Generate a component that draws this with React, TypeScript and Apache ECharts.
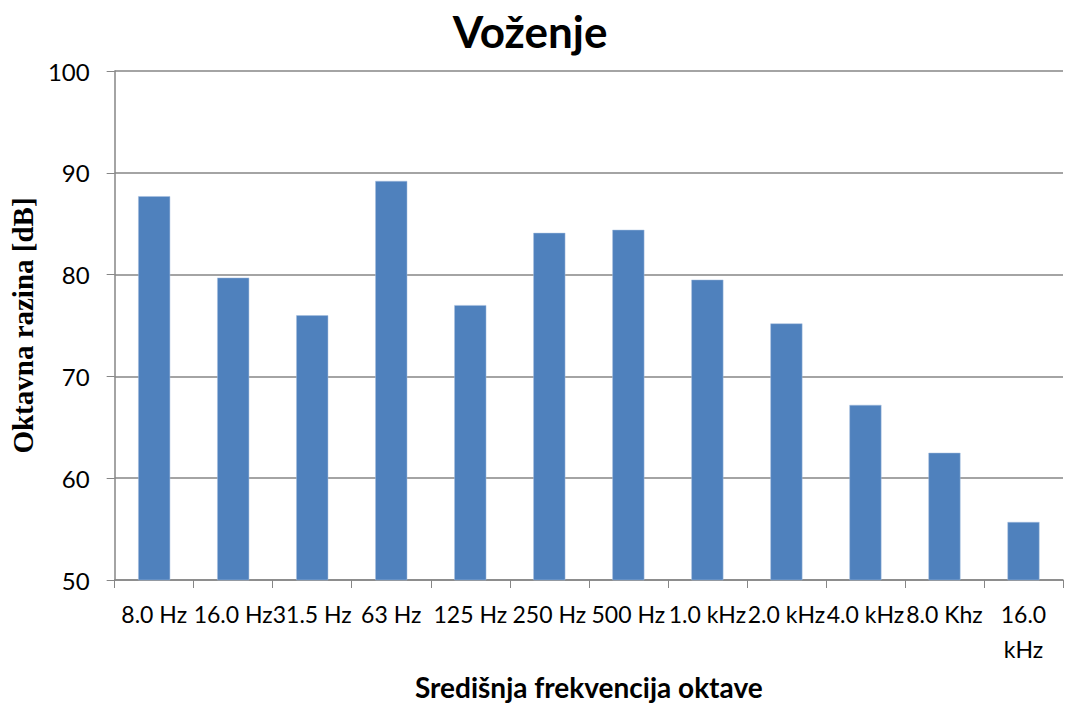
import React, { useEffect, useRef } from "react";
import * as echarts from "echarts";

const categories = [
  "8.0 Hz", "16.0 Hz", "31.5 Hz", "63 Hz", "125 Hz", "250 Hz",
  "500 Hz", "1.0 kHz", "2.0 kHz", "4.0 kHz", "8.0 Khz", "16.0 kHz",
];
const levels = [87.7, 79.7, 76.0, 89.2, 77.0, 84.1, 84.4, 79.5, 75.2, 67.2, 62.5, 55.7];
const yTicks = [50, 60, 70, 80, 90, 100];

const title = "Voženje";
const yName = "Oktavna razina [dB]";
const xName = "Središnja frekvencija oktave";

export default function App() {
  const ref = useRef<HTMLDivElement>(null);
  useEffect(() => {
    if (!ref.current) return;
    const chart = echarts.init(ref.current, undefined, { renderer: "svg" });
    chart.setOption({
      animation: false,
      backgroundColor: "#ffffff",
      title: {
        text: title,
        left: 525,
        textAlign: "center",
        top: 4,
        textStyle: { fontFamily: "Lato", fontWeight: "bold", fontSize: 44, color: "#000" },
      },
      grid: { left: 112, right: 18, top: 71, bottom: 114, containLabel: false },
      xAxis: {
        type: "category",
        data: categories,
        name: xName,
        nameLocation: "middle",
        nameGap: 93,
        nameTextStyle: { fontFamily: "Lato", fontWeight: "bold", fontSize: 28, color: "#000" },
        axisLine: { lineStyle: { color: "#868686", width: 1.5 } },
        axisTick: { show: true, length: 8, lineStyle: { color: "#868686" } },
        axisLabel: {
          interval: 0,
          fontFamily: "Lato",
          fontSize: 23,
          color: "#000",
          margin: 16,
          lineHeight: 35,
          formatter: (v: string) => (v.length > 7 ? v.replace(" ", "\n") : v),
        },
      },
      yAxis: {
        type: "value",
        min: yTicks[0],
        max: yTicks[yTicks.length - 1],
        interval: 10,
        name: yName,
        nameLocation: "middle",
        nameGap: 75,
        nameTextStyle: { fontFamily: "Liberation Serif", fontWeight: "bold", fontSize: 29, color: "#000" },
        axisLine: { show: true, lineStyle: { color: "#868686", width: 1.5 } },
        axisTick: { show: true, length: 8, lineStyle: { color: "#868686" } },
        axisLabel: { fontFamily: "Lato", fontSize: 24, color: "#000", margin: 25 },
        splitLine: { lineStyle: { color: "#868686", width: 1.5 } },
      },
      series: [
        {
          type: "bar",
          data: levels,
          barWidth: 32,
          itemStyle: { color: "#4f81bd", borderColor: "#a7bfde", borderWidth: 0.5 },
        },
      ],
    });
    return () => chart.dispose();
  }, []);
  return (
    <div
      ref={ref}
      style={{ position: "absolute", left: 0, top: 0, width: 1081, height: 706 }}
    />
  );
}
